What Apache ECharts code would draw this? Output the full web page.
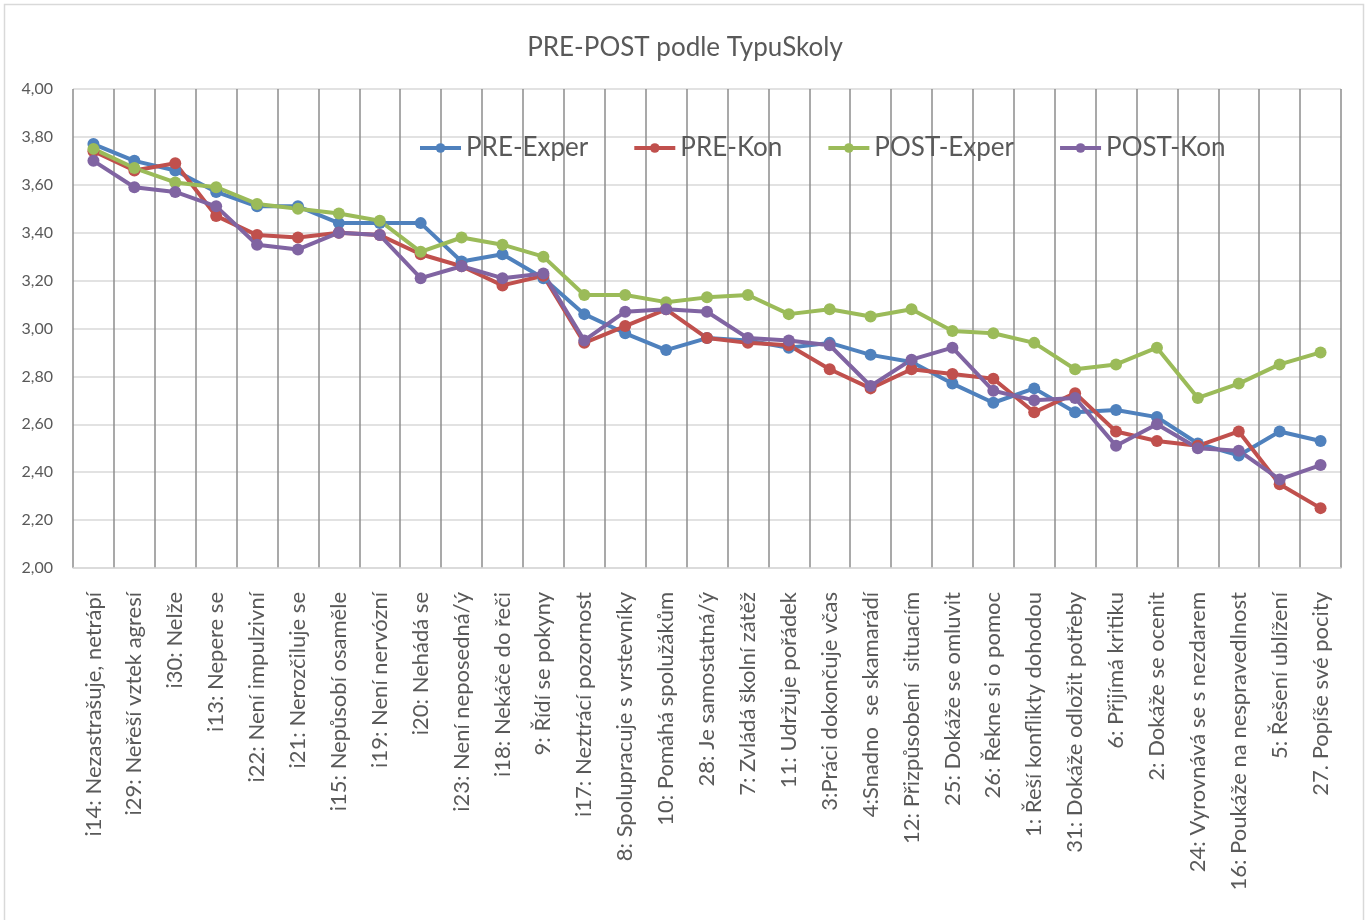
<!DOCTYPE html>
<html>
<head>
<meta charset="utf-8">
<script src="https://cdn.jsdelivr.net/npm/echarts@6/dist/echarts.min.js"></script>
<style>
  html, body { margin: 0; padding: 0; background: #fff; }
  #chart { width: 1370px; height: 920px; }
</style>
</head>
<body>
<div id="chart"></div>
<script>
const categories = [
  'i14: Nezastrašuje, netrápí', 'i29: Neřeší vztek agresí', 'i30: Nelže', 'i13: Nepere se',
  'i22: Není impulzivní', 'i21: Nerozčiluje se', 'i15: Nepůsobí osaměle', 'i19: Není nervózní',
  'i20: Nehádá se', 'i23: Není neposedná/ý', 'i18: Nekáče do řeči', '9: Řídí se pokyny',
  'i17: Neztrácí pozornost', '8: Spolupracuje s vrstevníky', '10: Pomáhá spolužákům',
  '28: Je samostatná/ý', '7: Zvládá školní zátěž', '11: Udržuje pořádek', '3:Práci dokončuje včas',
  '4:Snadno  se skamarádí', '12: Přizpůsobení  situacím', '25: Dokáže se omluvit',
  '26: Řekne si o pomoc', '1: Řeší konflikty dohodou', '31: Dokáže odložit potřeby',
  '6: Přijímá kritiku', '2: Dokáže se ocenit', '24: Vyrovnává se s nezdarem',
  '16: Poukáže na nespravedlnost', '5: Řešení ublížení', '27. Popíše své pocity'
];

const preExper = [3.77, 3.70, 3.66, 3.57, 3.51, 3.51, 3.44, 3.44, 3.44, 3.28, 3.31, 3.21,
  3.06, 2.98, 2.91, 2.96, 2.95, 2.92, 2.94, 2.89, 2.86, 2.77, 2.69, 2.75, 2.65, 2.66, 2.63,
  2.52, 2.47, 2.57, 2.53];
const preKon = [3.74, 3.66, 3.69, 3.47, 3.39, 3.38, 3.40, 3.39, 3.31, 3.26, 3.18, 3.22,
  2.94, 3.01, 3.08, 2.96, 2.94, 2.93, 2.83, 2.75, 2.83, 2.81, 2.79, 2.65, 2.73, 2.57, 2.53,
  2.51, 2.57, 2.35, 2.25];
const postExper = [3.75, 3.67, 3.61, 3.59, 3.52, 3.50, 3.48, 3.45, 3.32, 3.38, 3.35, 3.30,
  3.14, 3.14, 3.11, 3.13, 3.14, 3.06, 3.08, 3.05, 3.08, 2.99, 2.98, 2.94, 2.83, 2.85, 2.92,
  2.71, 2.77, 2.85, 2.90];
const postKon = [3.70, 3.59, 3.57, 3.51, 3.35, 3.33, 3.40, 3.39, 3.21, 3.26, 3.21, 3.23,
  2.95, 3.07, 3.08, 3.07, 2.96, 2.95, 2.93, 2.76, 2.87, 2.92, 2.74, 2.70, 2.71, 2.51, 2.60,
  2.50, 2.49, 2.37, 2.43];

const seriesNames = ['PRE-Exper', 'PRE-Kon', 'POST-Exper', 'POST-Kon'];
const seriesColors = ['#4f81bd', '#c0504d', '#9bbb59', '#8064a2'];
const seriesData = [preExper, preKon, postExper, postKon];

const textColor = '#595959';
const font = 'Lato';

let chart = echarts.init(document.getElementById('chart'));

let option = {
  backgroundColor: '#fff',
  animation: false,
  graphic: [{
    type: 'rect',
    shape: { x: 4.5, y: 4.5, width: 1359, height: 930 },
    style: { fill: 'none', stroke: '#d9d9d9', lineWidth: 1.5 },
    silent: true
  }],
  title: {
    text: 'PRE-POST podle TypuSkoly',
    left: 'center',
    top: 30,
    textStyle: { color: textColor, fontFamily: font, fontWeight: 'normal', fontSize: 26 }
  },
  legend: {
    data: seriesNames,
    left: 413,
    top: 130,
    itemWidth: 41,
    itemHeight: 12,
    itemGap: 44,
    lineStyle: { width: 4 },
    textStyle: { color: textColor, fontFamily: font, fontSize: 26 }
  },
  grid: { left: 73, right: 29, top: 89, bottom: 352 },
  xAxis: {
    type: 'category',
    data: categories,
    boundaryGap: true,
    axisLine: { lineStyle: { color: '#d9d9d9', width: 1.5 } },
    axisTick: { show: false },
    splitLine: { show: true, lineStyle: { color: '#8c8c8c', width: 1.5 } },
    axisLabel: {
      interval: 0,
      rotate: 90,
      margin: 24,
      color: textColor,
      fontFamily: font,
      fontSize: 22
    }
  },
  yAxis: {
    type: 'value',
    min: 2,
    max: 4,
    interval: 0.2,
    axisLine: { show: false },
    axisTick: { show: false },
    splitLine: { lineStyle: { color: '#d9d9d9', width: 1.5 } },
    axisLabel: {
      margin: 20,
      color: textColor,
      fontFamily: font,
      fontSize: 16,
      formatter: function (v) { return v.toFixed(2).replace('.', ','); }
    }
  },
  series: seriesData.map(function (data, i) {
    return {
      name: seriesNames[i],
      type: 'line',
      data: data,
      symbol: 'circle',
      symbolSize: 12,
      color: seriesColors[i],
      lineStyle: { width: 4, color: seriesColors[i] },
      itemStyle: { color: seriesColors[i] }
    };
  })
};

chart.setOption(option);
</script>
</body>
</html>
